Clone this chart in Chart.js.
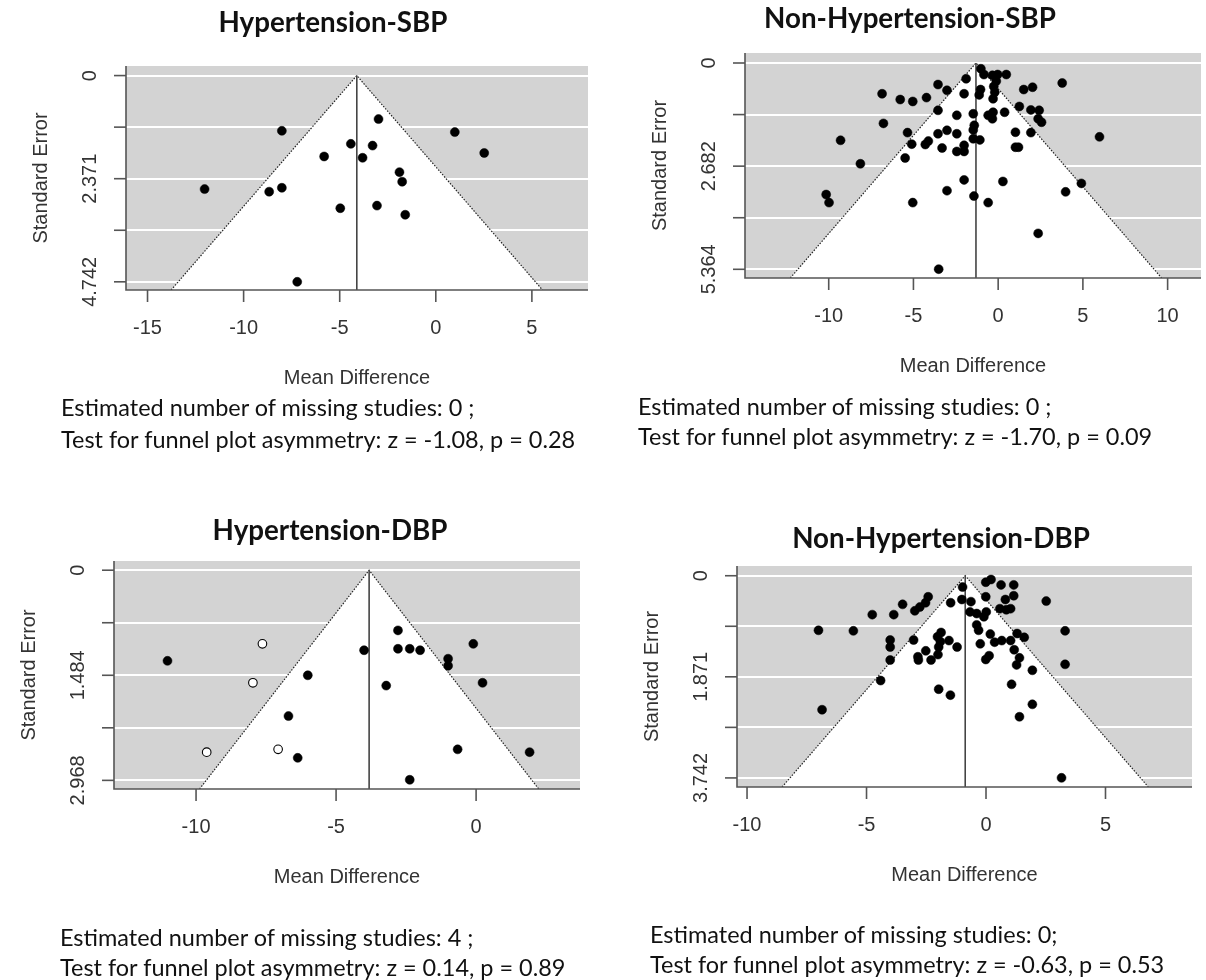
<!DOCTYPE html>
<html>
<head>
<meta charset="utf-8">
<script src="https://cdn.jsdelivr.net/npm/chart.js@4.4.0/dist/chart.umd.min.js"></script>
<style>
html,body{margin:0;padding:0;background:#fff;width:1206px;height:980px;overflow:hidden;}
#wrap{position:relative;width:1206px;height:980px;}
#wrap canvas{position:absolute;left:0;top:0;}
.ttl{position:absolute;font-family:Lato,"Open Sans",sans-serif;font-weight:700;white-space:nowrap;transform:translate(-50%,-50%);color:#111;line-height:1;}
.note{position:absolute;font-family:Lato,"Open Sans",sans-serif;white-space:nowrap;transform:translateY(-50%);color:#111;line-height:1;}
</style>
</head>
<body>
<div id="wrap"></div>
<script>
/* ---- data ---- */
// Hypertension-SBP
const hsbpMD = [-2.98,-8.01,0.99,-4.42,-3.29,2.52,-5.81,-3.81,-1.89,-1.75,-12.03,-8.67,-8.01,-3.06,-4.97,-1.59,-7.21];
const hsbpSE = [1.00,1.27,1.30,1.57,1.61,1.78,1.86,1.89,2.22,2.44,2.61,2.67,2.58,2.99,3.05,3.20,4.742];
const hsbpCenter = -4.11;
const hsbpXTicks = [-15,-10,-5,0,5];
const hsbpYTicks = [0,1.1855,2.371,3.5565,4.742];
const hsbpYLabels = ['0','','2.371','','4.742'];

// Non-Hypertension-SBP
const nhsbpMD = [-1.02,-0.84,-0.34,-0.03,0.48,-0.11,-0.26,-0.20,-0.30,-1.89,-1.04,-1.12,-2.01,-3.55,-3.02,1.51,2.03,3.78,
  -6.85,-5.78,-5.04,-4.23,-3.55,-2.44,-1.47,-0.59,-0.30,-0.34,0.38,1.25,1.93,2.42,2.36,2.56,
  -6.77,-1.41,-1.47,1.02,1.93,-3.02,-3.55,-2.44,-5.35,-5.10,-4.30,-4.12,-3.31,-2.44,-2.01,-2.01,-1.47,-1.08,1.02,1.20,
  -9.30,5.98,-5.49,-8.13,-2.01,0.28,4.91,-3.02,3.98,-1.43,-0.59,-10.15,-9.98,-5.04,2.36,-3.51];
const nhsbpSE = [0.15,0.30,0.32,0.30,0.30,0.47,0.61,0.76,0.93,0.41,0.69,0.83,0.80,0.56,0.71,0.69,0.63,0.52,
  0.80,0.95,1.00,0.90,1.23,1.36,1.32,1.36,1.28,1.45,1.28,1.13,1.22,1.23,1.45,1.54,
  1.57,1.62,1.74,1.80,1.81,1.75,1.84,1.84,1.81,2.11,2.12,2.03,2.21,2.30,2.14,2.30,1.97,2.00,2.19,2.19,
  2.01,1.92,2.47,2.62,3.04,3.08,3.13,3.32,3.35,3.46,3.63,3.42,3.63,3.63,4.43,5.36];
const nhsbpCenter = -1.31;
const nhsbpXTicks = [-10,-5,0,5,10];
const nhsbpYTicks = [0,1.341,2.682,4.023,5.364];
const nhsbpYLabels = ['0','','2.682','','5.364'];

// Hypertension-DBP (filled = observed, open = filled-in studies)
const hdbpMD = [-11.02,-6.01,-6.70,-6.37,-4.00,-2.79,-2.79,-2.37,-2.00,-1.00,-1.00,-0.10,-3.21,0.23,-0.66,1.91,-2.37];
const hdbpSE = [1.28,1.484,2.06,2.65,1.13,0.85,1.11,1.11,1.13,1.25,1.35,1.04,1.63,1.59,2.53,2.57,2.96];
const hdbpFillMD = [-7.63,-7.97,-9.62,-7.07];
const hdbpFillSE = [1.04,1.59,2.57,2.53];
const hdbpCenter = -3.82;
const hdbpXTicks = [-10,-5,0];
const hdbpYTicks = [0,0.742,1.484,2.226,2.968];
const hdbpYLabels = ['0','','1.484','','2.968'];

// Non-Hypertension-DBP
const nhdbpMD = [-0.98,-1.01,-1.48,-0.63,-0.67,-0.39,-0.09,0.01,-0.01,0.21,-0.01,0.63,1.16,1.16,0.81,0.58,0.85,1.03,2.52,
  -2.42,-2.53,-2.77,-2.98,-3.49,-3.86,-4.76,-7.01,-5.55,3.31,
  -0.39,-0.31,0.18,-0.24,0.36,0.66,1.03,1.30,1.60,1.18,1.40,1.28,
  -1.88,-2.03,-1.91,-1.55,-1.21,-1.98,-2.52,-2.85,-2.83,-2.30,-2.01,-3.03,-4.01,-4.01,-4.01,0.13,-0.01,1.94,3.31,
  -4.41,-1.98,-1.49,1.07,1.94,1.40,-6.86,3.16];
const nhdbpSE = [0.21,0.44,0.50,0.48,0.67,0.70,0.76,0.67,0.39,0.07,0.12,0.17,0.17,0.37,0.44,0.61,0.63,0.61,0.47,
  0.39,0.50,0.58,0.65,0.53,0.72,0.72,1.01,1.02,1.02,
  0.91,1.01,1.08,1.26,1.23,1.20,1.20,1.07,1.14,1.37,1.52,1.65,
  1.05,1.13,1.22,1.20,1.32,1.32,1.39,1.50,1.56,1.56,1.46,1.19,1.19,1.32,1.56,1.48,1.55,1.75,1.64,
  1.94,2.10,2.21,2.01,2.38,2.61,2.48,3.74];
const nhdbpCenter = -0.87;
const nhdbpXTicks = [-10,-5,0,5];
const nhdbpYTicks = [0,0.9355,1.871,2.8065,3.742];
const nhdbpYLabels = ['0','','1.871','','3.742'];

/* ---- layout ---- */
const W = 1206, H = 980;
const panels = [
  {md:hsbpMD, se:hsbpSE, center:hsbpCenter, xTicks:hsbpXTicks, yTicks:hsbpYTicks, yLabels:hsbpYLabels,
   xMin:-16.12, xMax:7.92, yMin:-0.22, yMax:4.93, box:[126,66,588,290]},
  {md:nhsbpMD, se:nhsbpSE, center:nhsbpCenter, xTicks:nhsbpXTicks, yTicks:nhsbpYTicks, yLabels:nhsbpYLabels,
   xMin:-14.94, xMax:11.97, yMin:-0.26, yMax:5.59, box:[745,53,1206,278]},
  {md:hdbpMD, se:hdbpSE, openMD:hdbpFillMD, openSE:hdbpFillSE, center:hdbpCenter, xTicks:hdbpXTicks, yTicks:hdbpYTicks, yLabels:hdbpYLabels,
   xMin:-12.93, xMax:3.71, yMin:-0.13, yMax:3.09, box:[114,561,580,789]},
  {md:nhdbpMD, se:nhdbpSE, center:nhdbpCenter, xTicks:nhdbpXTicks, yTicks:nhdbpYTicks, yLabels:nhdbpYLabels,
   xMin:-10.42, xMax:8.62, yMin:-0.18, yMax:3.91, box:[737,566,1192,787]}
];

const titles = [
  ['Hypertension-SBP',333,22],['Non-Hypertension-SBP',910,18],
  ['Hypertension-DBP',330,530],['Non-Hypertension-DBP',941,538]
];
const notes = [
  ['Estimated number of missing studies: 0 ;',61,408],['Test for funnel plot asymmetry: z = -1.08, p = 0.28',61,440],
  ['Estimated number of missing studies: 0 ;',638,407],['Test for funnel plot asymmetry: z = -1.70, p = 0.09',638,437],
  ['Estimated number of missing studies: 4 ;',60,938],['Test for funnel plot asymmetry: z = 0.14, p = 0.89',60,968],
  ['Estimated number of missing studies: 0;',650,935],['Test for funnel plot asymmetry: z = -0.63, p = 0.53',650,965]
];

const AXFONT = '"Liberation Sans", Arial, sans-serif';

// grey panel, white grid, white funnel, dotted limits, centre line
const funnelPlugin = {
  id: 'funnel',
  beforeDatasetsDraw(chart, args, o){
    const {ctx, chartArea:a, scales:{x, y}} = chart;
    const px = v => x.getPixelForValue(v), py = v => y.getPixelForValue(v);
    const seMax = y.max;
    ctx.save();
    ctx.beginPath(); ctx.rect(a.left, a.top, a.right-a.left, a.bottom-a.top); ctx.clip();
    ctx.fillStyle = '#d3d3d3';
    ctx.fillRect(a.left, a.top, a.right-a.left, a.bottom-a.top);
    ctx.strokeStyle = '#fff'; ctx.lineWidth = 2;
    o.yTicks.forEach(v=>{ const yy = Math.round(py(v)); ctx.beginPath(); ctx.moveTo(a.left, yy); ctx.lineTo(a.right, yy); ctx.stroke(); });
    const lx = px(o.center - 1.96*seMax), rx = px(o.center + 1.96*seMax), cx = px(o.center), top = py(0), bot = py(seMax);
    ctx.beginPath(); ctx.moveTo(cx, top); ctx.lineTo(lx, bot); ctx.lineTo(rx, bot); ctx.closePath();
    ctx.fillStyle = '#fff'; ctx.fill();
    ctx.setLineDash([1.5,1.5]); ctx.strokeStyle = '#222'; ctx.lineWidth = 1.2;
    ctx.beginPath(); ctx.moveTo(lx, bot); ctx.lineTo(cx, top); ctx.lineTo(rx, bot); ctx.stroke();
    ctx.setLineDash([]);
    ctx.strokeStyle = '#444'; ctx.lineWidth = 1.6;
    ctx.beginPath(); ctx.moveTo(cx, top); ctx.lineTo(cx, a.bottom); ctx.stroke();
    ctx.restore();
  },
  afterDraw(chart, args, o){
    const {ctx, chartArea:a, scales:{x, y}} = chart;
    const px = v => x.getPixelForValue(v), py = v => y.getPixelForValue(v);
    ctx.save();
    ctx.strokeStyle = '#555'; ctx.lineWidth = 1.6;
    ctx.beginPath(); ctx.moveTo(a.left, a.top); ctx.lineTo(a.left, a.bottom); ctx.lineTo(a.right, a.bottom); ctx.stroke();
    ctx.fillStyle = '#333';
    ctx.font = '20px ' + AXFONT;
    ctx.textAlign = 'center'; ctx.textBaseline = 'middle';
    o.yTicks.forEach((v,i)=>{
      const yy = py(v);
      ctx.beginPath(); ctx.moveTo(a.left-12, yy); ctx.lineTo(a.left, yy); ctx.stroke();
      if(o.yLabels[i]){
        ctx.save(); ctx.translate(a.left-36, yy); ctx.rotate(-Math.PI/2); ctx.fillText(o.yLabels[i], 0, 0); ctx.restore();
      }
    });
    o.xTicks.forEach(v=>{
      const xx = px(v);
      ctx.beginPath(); ctx.moveTo(xx, a.bottom); ctx.lineTo(xx, a.bottom+12); ctx.stroke();
      ctx.fillText(String(v), xx, a.bottom+38);
    });
    ctx.font = '20px ' + AXFONT;
    ctx.fillText('Mean Difference', (a.left+a.right)/2, a.bottom+88);
    ctx.save(); ctx.translate(a.left-85, (a.top+a.bottom)/2); ctx.rotate(-Math.PI/2);
    ctx.fillText('Standard Error', 0, 0); ctx.restore();
    ctx.restore();
  }
};

const wrap = document.getElementById('wrap');
panels.forEach(p=>{
  const cv = document.createElement('canvas');
  cv.width = W; cv.height = H; cv.style.width = W+'px'; cv.style.height = H+'px';
  wrap.appendChild(cv);
  const datasets = [{
    data: p.md.map((v,i)=>({x:v, y:p.se[i]})),
    pointRadius: 4.5, pointBackgroundColor:'#000', pointBorderColor:'#000', pointBorderWidth:0.5, showLine:false
  }];
  if(p.openMD){
    datasets.push({
      data: p.openMD.map((v,i)=>({x:v, y:p.openSE[i]})),
      pointRadius: 4.3, pointBackgroundColor:'#fff', pointBorderColor:'#000', pointBorderWidth:1.1, showLine:false
    });
  }
  const [L,T,R,B] = p.box;
  new Chart(cv, {
    type:'scatter',
    data:{datasets},
    options:{
      responsive:false, animation:false, devicePixelRatio:1, events:[],
      layout:{padding:{left:L, top:T, right:W-R, bottom:H-B}},
      scales:{
        x:{type:'linear', min:p.xMin, max:p.xMax, display:false},
        y:{type:'linear', min:p.yMin, max:p.yMax, reverse:true, display:false}
      },
      plugins:{legend:{display:false}, tooltip:{enabled:false},
        funnel:{center:p.center, xTicks:p.xTicks, yTicks:p.yTicks, yLabels:p.yLabels}}
    },
    plugins:[funnelPlugin]
  });
});

// titles and notes as page text, sized to match the picture's widths
const mc = document.createElement('canvas').getContext('2d');
function fitSize(text, weight, target){
  mc.font = weight + ' 100px Lato, "Open Sans", sans-serif';
  return 100 * target / mc.measureText(text).width;
}
const titleSize = fitSize('Hypertension-SBP', 'bold', 229);
const noteSize = fitSize('Test for funnel plot asymmetry: z = -1.08, p = 0.28', 'normal', 515);
titles.forEach(([t,x,y])=>{
  const d = document.createElement('div'); d.className='ttl'; d.textContent=t;
  d.style.left=x+'px'; d.style.top=y+'px'; d.style.fontSize=titleSize.toFixed(2)+'px';
  wrap.appendChild(d);
});
notes.forEach(([t,x,y])=>{
  const d = document.createElement('div'); d.className='note'; d.textContent=t;
  d.style.left=x+'px'; d.style.top=y+'px'; d.style.fontSize=noteSize.toFixed(2)+'px';
  wrap.appendChild(d);
});
</script>
</body>
</html>
